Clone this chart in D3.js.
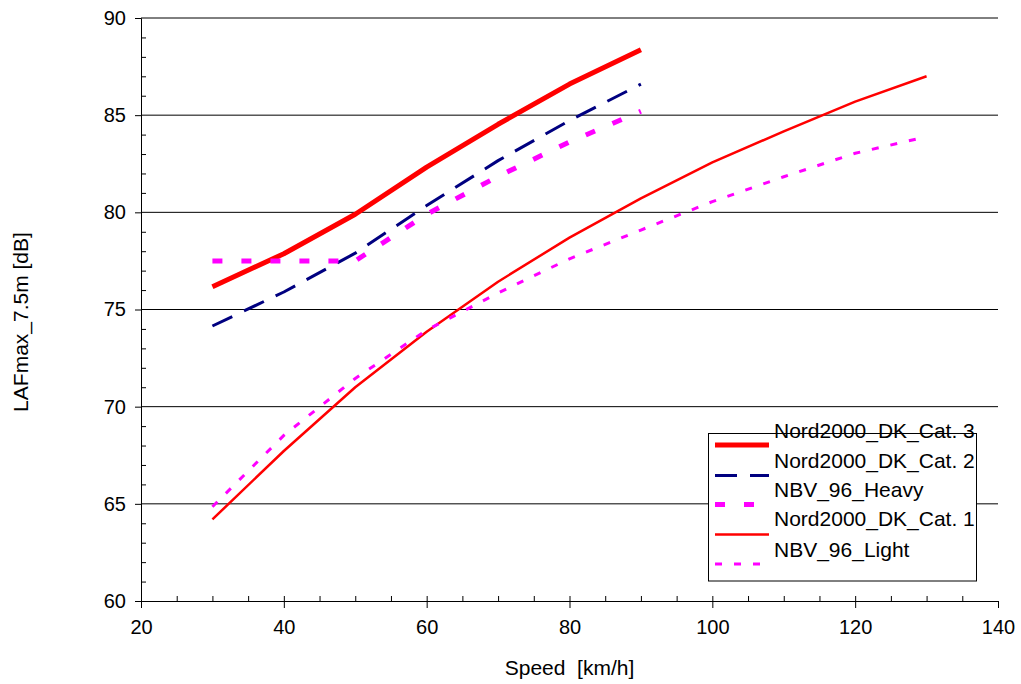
<!DOCTYPE html>
<html><head><meta charset="utf-8">
<script src="https://cdn.jsdelivr.net/npm/d3@7"></script>
<style>
body{margin:0;background:#fff;}
text{font-family:"Liberation Sans",Arial,sans-serif;fill:#000;}
</style></head>
<body><svg id="c" width="1021" height="684"></svg>
<script>
// ---- data ----
const speedsHeavy = [30,40,50,60,70,80,90];
const speedsLight = [30,40,50,60,70,80,90,100,110,120,130];
const cat3  = [76.17,77.87,79.9,82.33,84.53,86.6,88.37];
const cat2  = [74.15,75.9,77.9,80.35,82.66,84.72,86.6];
const heavy = [77.5,77.5,77.5,79.9,81.85,83.62,85.2];
const cat1  = [64.2,67.72,71.0,73.86,76.43,78.7,80.72,82.57,84.17,85.7,87.0];
const light = [64.85,68.52,71.45,73.94,75.85,77.61,79.09,80.55,81.83,83.04,83.89];
const xTicks = [20,40,60,80,100,120,140];
const yTicks = [60,65,70,75,80,85,90];
const seriesNames = ["Nord2000_DK_Cat. 3","Nord2000_DK_Cat. 2","NBV_96_Heavy","Nord2000_DK_Cat. 1","NBV_96_Light"];

const series = [
  {name:seriesNames[0], xs:speedsHeavy, ys:cat3,  color:"#ff0000", w:5,   dash:null},
  {name:seriesNames[1], xs:speedsHeavy, ys:cat2,  color:"#000080", w:3,   dash:"22,13"},
  {name:seriesNames[2], xs:speedsHeavy, ys:heavy, color:"#ff00ff", w:5,   dash:"10,19"},
  {name:seriesNames[3], xs:speedsLight, ys:cat1,  color:"#ff0000", w:2.5, dash:null},
  {name:seriesNames[4], xs:speedsLight, ys:light, color:"#ff00ff", w:3,   dash:"7,12"}
];

const svg = d3.select("#c");
const L=141, R=998, T=18, B=601;
const x = d3.scaleLinear().domain([20,140]).range([L,R]);
const y = d3.scaleLinear().domain([60,90]).range([B,T]);

// gridlines
svg.append("g").selectAll("line").data(yTicks.filter(v=>v>60)).join("line")
  .attr("x1",L).attr("x2",R).attr("y1",d=>y(d)).attr("y2",d=>y(d))
  .attr("stroke","#000").attr("stroke-width",1);

// y axis
const yAx = svg.append("g").attr("transform",`translate(${L},0)`)
  .call(d3.axisLeft(y).tickValues(yTicks).tickSize(6).tickPadding(9).tickFormat(d3.format("d")));
yAx.select(".domain").attr("stroke","#000");
yAx.selectAll("text").attr("font-size",20).attr("font-family","Liberation Sans, Arial, sans-serif");
svg.append("g").attr("transform",`translate(${L},0)`)
  .call(d3.axisRight(y).tickValues(d3.range(61,90).filter(v=>v%5!==0)).tickSize(5).tickFormat(""))
  .select(".domain").remove();

// x axis
const xAx = svg.append("g").attr("transform",`translate(0,${B})`)
  .call(d3.axisBottom(x).tickValues(xTicks).tickSize(7).tickPadding(12).tickFormat(d3.format("d")));
xAx.select(".domain").attr("stroke","#000");
xAx.selectAll("text").attr("font-size",20).attr("font-family","Liberation Sans, Arial, sans-serif");
svg.append("g").attr("transform",`translate(0,${B})`)
  .call(d3.axisTop(x).tickValues(d3.range(25,140,5)).tickSize(5).tickFormat(""))
  .select(".domain").remove();

// titles
svg.append("text").attr("x",(L+R)/2).attr("y",675).attr("text-anchor","middle")
  .attr("font-size",21).text("Speed  [km/h]").style("white-space","pre");
svg.append("text").attr("transform","translate(28,322) rotate(-90)").attr("text-anchor","middle")
  .attr("font-size",21).text("LAFmax_7.5m [dB]");

// lines
const line = d3.line().x(d=>x(d[0])).y(d=>y(d[1]));
svg.append("g").selectAll("path").data(series).join("path")
  .attr("d",s=>line(s.xs.map((v,i)=>[v,s.ys[i]])))
  .attr("fill","none").attr("stroke",s=>s.color).attr("stroke-width",s=>s.w)
  .attr("stroke-dasharray",s=>s.dash).attr("stroke-linejoin","round");

// legend
const lg = svg.append("g");
lg.append("rect").attr("x",708.5).attr("y",433.5).attr("width",268).attr("height",147.5)
  .attr("fill","#fff").attr("stroke","#000").attr("stroke-width",1);
const rowY = [445,475.5,504.5,534.5,564];
const textY = [438,468,497,526,557];
series.forEach((s,i)=>{
  lg.append("line").attr("x1",715).attr("x2",769).attr("y1",rowY[i]).attr("y2",rowY[i])
    .attr("stroke",s.color).attr("stroke-width",s.w).attr("stroke-dasharray",s.dash);
  lg.append("text").attr("x",774).attr("y",textY[i]).attr("font-size",21).text(s.name);
});
</script></body></html>
